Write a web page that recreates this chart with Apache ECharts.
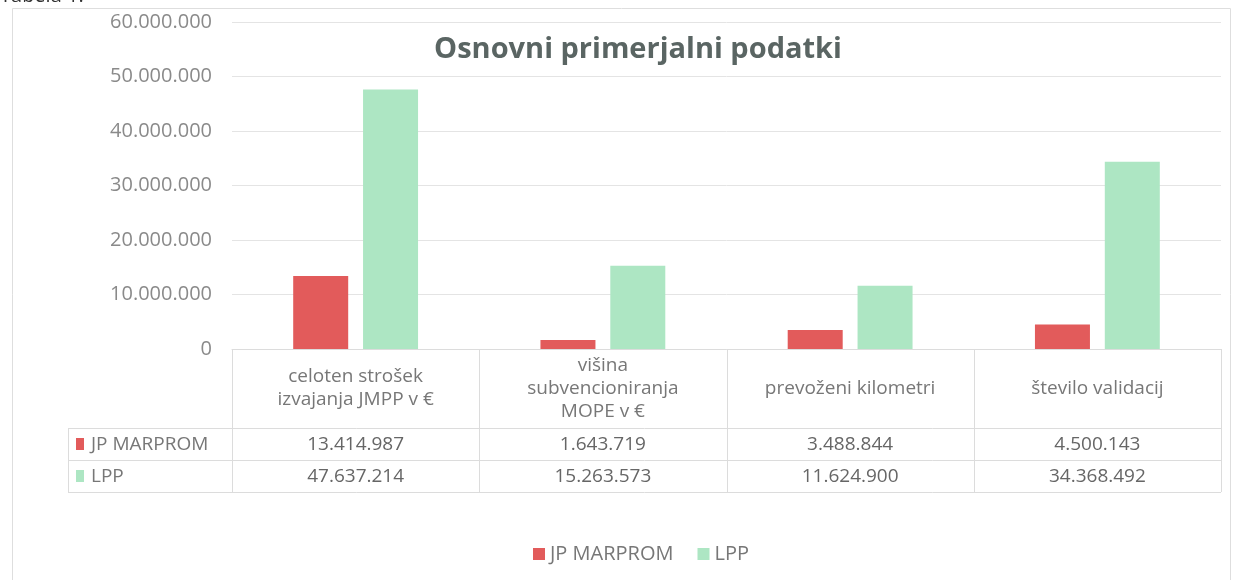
<!DOCTYPE html>
<html>
<head>
<meta charset="utf-8">
<script src="https://cdn.jsdelivr.net/npm/echarts@6/dist/echarts.min.js"></script>
<style>
  html, body { margin: 0; padding: 0; background: #fff; }
  #chart { width: 1241px; height: 580px; }
</style>
</head>
<body>
<div id="chart"></div>
<script>
// podatki
const categories = [
  'celoten strošek\nizvajanja JMPP v €',
  'višina\nsubvencioniranja\nMOPE v €',
  'prevoženi kilometri',
  'število validacij'
]
const seriesNames = ['JP MARPROM', 'LPP']
const marpromValues = [13414987, 1643719, 3488844, 4500143]
const lppValues = [47637214, 15263573, 11624900, 34368492]
const yTicks = [0, 10000000, 20000000, 30000000, 40000000, 50000000, 60000000]

const RED = '#e25b5b'
const GREEN = '#ade6c3'
const FONT = 'Open Sans'

const fmt = v => String(v).replace(/\B(?=(\d{3})+(?!\d))/g, '.')

const chart = echarts.init(document.getElementById('chart'))

// tabela pod grafom
const gridLeft = 232
const gridRight = 1221
const tableTop = 349
const rowA = 428
const rowB = 460
const rowC = 492
const tableLeft = 68
const colW = (gridRight - gridLeft) / categories.length

const lineStyle = { stroke: '#dcdcdc', lineWidth: 1 }
const graphics = []

// okvir
graphics.push({ type: 'rect', shape: { x: 12.5, y: 8.5, width: 1218, height: 600 }, style: { fill: 'none', stroke: '#dedede', lineWidth: 1 } })
graphics.push({ type: 'text', left: 0, top: -14, style: { text: 'Tabela 1:', font: '20px ' + FONT, fill: '#333' } })

// vodoravne črte
;[rowA, rowB, rowC].forEach(y => {
  graphics.push({ type: 'line', shape: { x1: tableLeft, y1: y + 0.5, x2: gridRight, y2: y + 0.5 }, style: lineStyle })
})
// navpične črte
for (let i = 0; i <= categories.length; i++) {
  const x = Math.round(gridLeft + i * colW) + 0.5
  graphics.push({ type: 'line', shape: { x1: x, y1: tableTop, x2: x, y2: rowC }, style: lineStyle })
}
graphics.push({ type: 'line', shape: { x1: tableLeft + 0.5, y1: rowA, x2: tableLeft + 0.5, y2: rowC }, style: lineStyle })

// imena serij v levem stolpcu
;[[seriesNames[0], RED, (rowA + rowB) / 2], [seriesNames[1], GREEN, (rowB + rowC) / 2]].forEach(([name, color, cy]) => {
  graphics.push({ type: 'rect', shape: { x: 76, y: cy - 6, width: 8, height: 12 }, style: { fill: color } })
  graphics.push({ type: 'text', x: 91, y: cy + 1, style: { text: name, font: '19px ' + FONT, fill: '#777', verticalAlign: 'middle' } })
})

// vrednosti v tabeli
categories.forEach((c, i) => {
  const cx = gridLeft + (i + 0.5) * colW
  graphics.push({ type: 'text', x: cx, y: (tableTop + rowA) / 2, style: { text: c, font: '19px ' + FONT, fill: '#777', align: 'center', verticalAlign: 'middle', lineHeight: 23 } })
  graphics.push({ type: 'text', x: cx, y: (rowA + rowB) / 2 + 1, style: { text: fmt(marpromValues[i]), font: '19px ' + FONT, fill: '#666', align: 'center', verticalAlign: 'middle' } })
  graphics.push({ type: 'text', x: cx, y: (rowB + rowC) / 2 + 1, style: { text: fmt(lppValues[i]), font: '19px ' + FONT, fill: '#666', align: 'center', verticalAlign: 'middle' } })
})

const option = {
  animation: false,
  textStyle: { fontFamily: FONT },
  title: {
    text: 'Osnovni primerjalni podatki',
    left: 633,
    top: 30,
    textAlign: 'center',
    textStyle: { fontSize: 29, fontWeight: 'bold', color: '#5a6563', fontFamily: FONT }
  },
  legend: {
    data: seriesNames,
    bottom: 11,
    left: 528,
    itemWidth: 12,
    itemHeight: 12,
    itemGap: 24,
    icon: 'rect',
    textStyle: { fontSize: 20, color: '#777' }
  },
  grid: {
    left: gridLeft,
    right: 1241 - gridRight,
    top: 22,
    bottom: 580 - tableTop
  },
  xAxis: {
    type: 'category',
    data: categories,
    axisLine: { lineStyle: { color: '#dcdcdc' } },
    axisTick: { show: false },
    axisLabel: { show: false }
  },
  yAxis: {
    type: 'value',
    min: yTicks[0],
    max: yTicks[yTicks.length - 1],
    interval: yTicks[1] - yTicks[0],
    axisLine: { show: false },
    axisTick: { show: false },
    axisLabel: { formatter: v => fmt(v), fontSize: 20, color: '#8a8a8a', margin: 20 },
    splitLine: { lineStyle: { color: '#e4e4e4' } }
  },
  series: [
    {
      name: seriesNames[0],
      type: 'bar',
      data: marpromValues,
      barWidth: 55,
      barGap: '27%',
      itemStyle: { color: RED }
    },
    {
      name: seriesNames[1],
      type: 'bar',
      data: lppValues,
      barWidth: 55,
      itemStyle: { color: GREEN }
    }
  ],
  graphic: graphics
}

chart.setOption(option)
</script>
</body>
</html>
